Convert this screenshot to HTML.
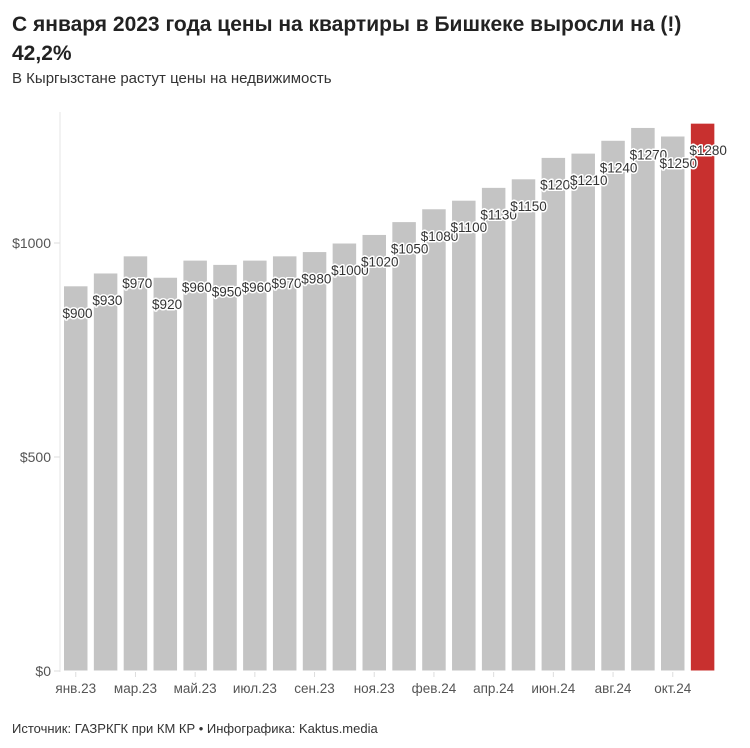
<!DOCTYPE html>
<html><head><meta charset="utf-8">
<style>
body{margin:0;background:#fff;width:750px;height:748px;overflow:hidden;font-family:"Liberation Sans",sans-serif;}
#title{position:absolute;left:12px;top:10px;width:730px;font-size:21px;font-weight:bold;color:#222;line-height:29px;}
#sub{position:absolute;left:12px;top:70px;font-size:15px;color:#333;}
#src{position:absolute;left:12px;top:721px;font-size:13px;color:#333;}
svg{position:absolute;left:0;top:0;}
</style></head><body>
<div id="title">С января 2023 года цены на квартиры в Бишкеке выросли на (!) 42,2%</div>
<div id="sub">В Кыргызстане растут цены на недвижимость</div>
<div id="src">Источник: ГАЗРКГК при КМ КР • Инфографика: Kaktus.media</div>
<svg id="chart" width="750" height="748"></svg>
<script>
const values=[900,930,970,920,960,950,960,970,980,1000,1020,1050,1080,1100,1130,1150,1200,1210,1240,1270,1250,1280];
const xLabels=["янв.23","","мар.23","","май.23","","июл.23","","сен.23","","ноя.23","","фев.24","","апр.24","","июн.24","","авг.24","","окт.24",""];
const yTicks=[0,500,1000];
const NS="http://www.w3.org/2000/svg";
const svg=document.getElementById('chart');
const x0=63.5,pitch=29.85,bw=24.5;
const y=v=>671-v*0.428;
const xb=i=>x0+i*pitch;
function mk(t,a){const e=document.createElementNS(NS,t);for(const k in a)e.setAttribute(k,a[k]);svg.appendChild(e);return e;}
let ax=mk('line',{x1:60,x2:60,y1:112,y2:672,stroke:'#e6e6e6'});


yTicks.forEach(t=>{
 let l=mk('line',{x1:54,x2:60,y1:y(t),y2:y(t),stroke:'#ddd'});
 
 
 let tx=mk('text',{x:51,y:y(t)+5,'text-anchor':'end','font-size':14,fill:'#555','font-family':'Liberation Sans, sans-serif'});
 tx.textContent='$'+t;
 
 
});
values.forEach((v,i)=>{
 const last=i===values.length-1;
 let r=mk('rect',{x:xb(i),y:y(v),width:bw,height:671-y(v),fill:last?'#c8302f':'#c4c4c4',stroke:'#fff','stroke-width':1});
 
 
});
values.forEach((v,i)=>{
 let t=mk('text',{x:xb(i)-1,y:y(v)+32,'font-size':13.5,fill:'#333',stroke:'#fff','stroke-width':3,'paint-order':'stroke','stroke-linejoin':'round','font-family':'Liberation Sans, sans-serif'});
 t.textContent='$'+v;
 
 
 if(xLabels[i]){
  let l=mk('text',{x:xb(i)+bw/2,y:693,'text-anchor':'middle','font-size':13.5,fill:'#555','font-family':'Liberation Sans, sans-serif'});
  l.textContent=xLabels[i];
  
  
  let tk=mk('line',{x1:xb(i)+bw/2,x2:xb(i)+bw/2,y1:672,y2:677,stroke:'#ddd'});
  
  
 }
});
</script>
</body></html>
